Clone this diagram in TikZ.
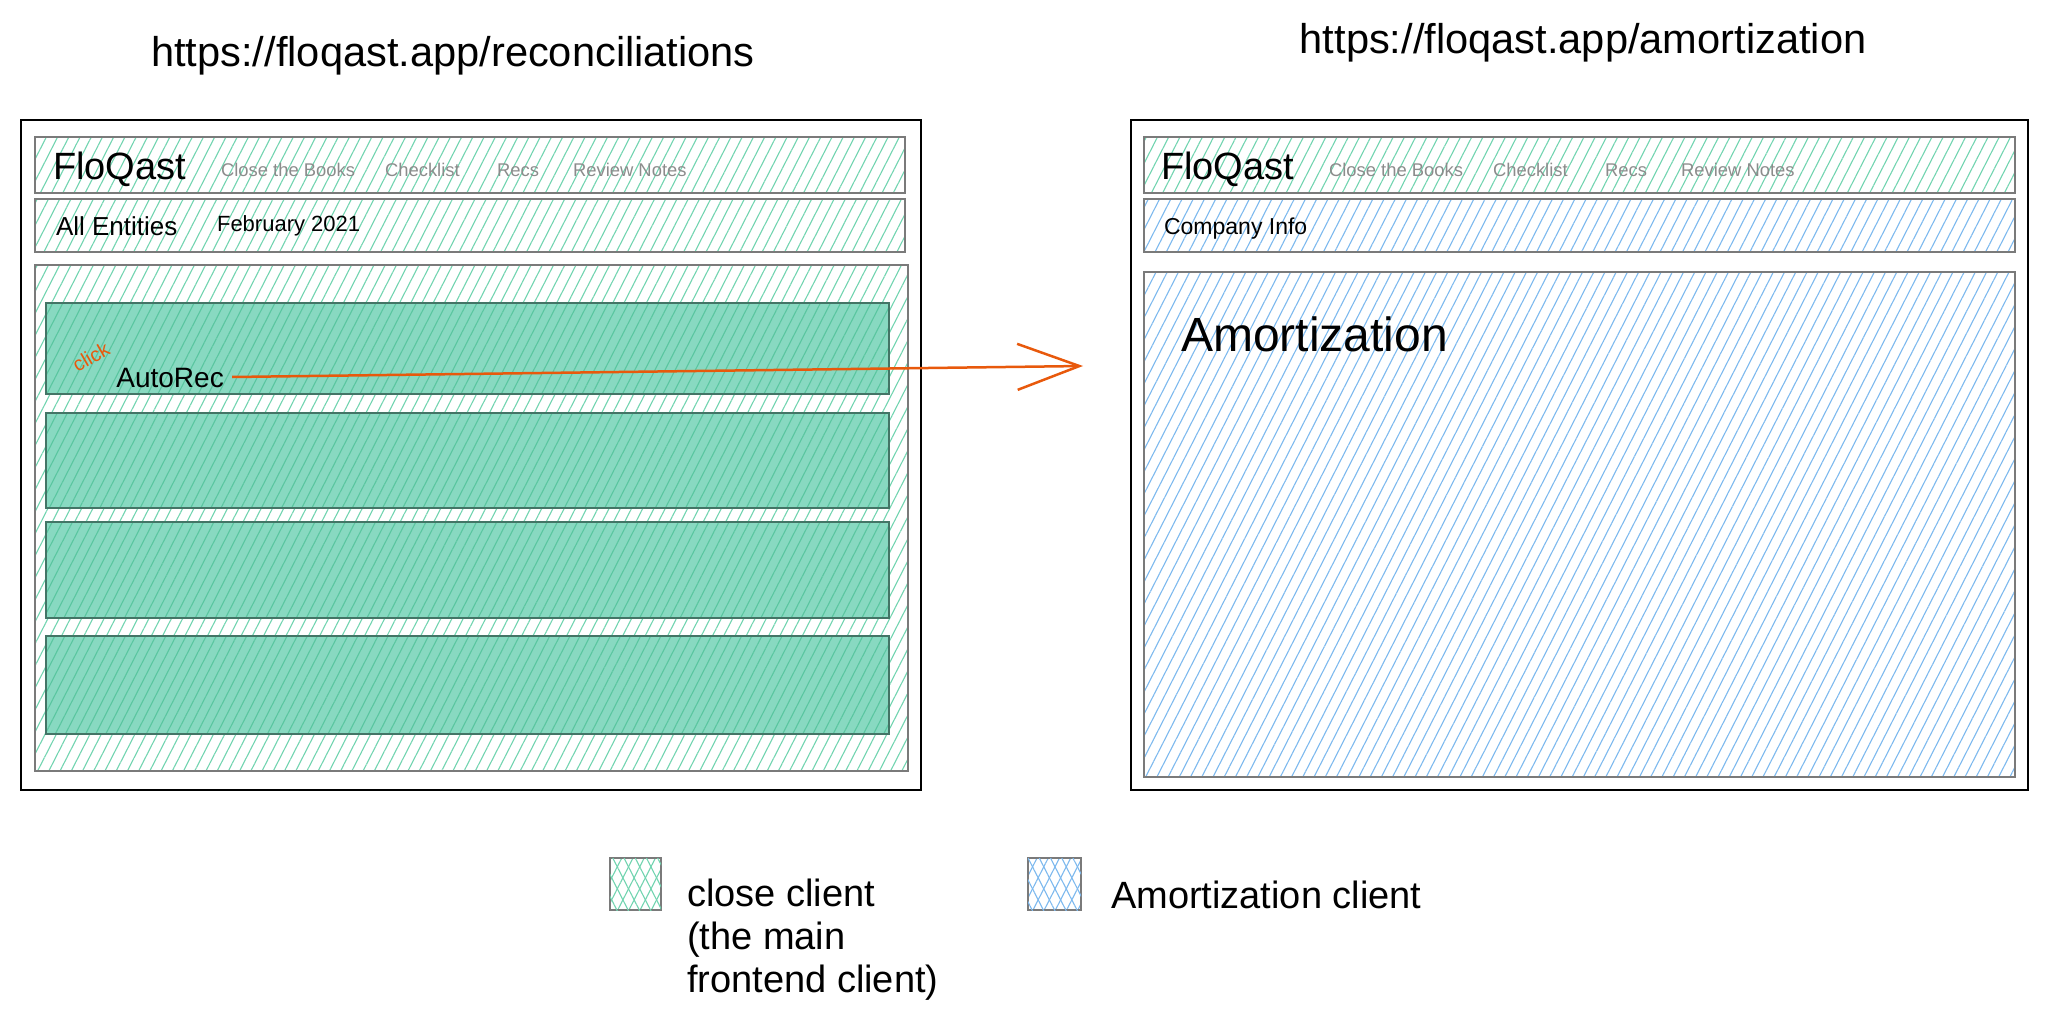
\documentclass[tikz,border=0pt]{standalone}
\usepackage{fontspec}
\setmainfont{Liberation Sans}
\usetikzlibrary{patterns.meta,arrows.meta}
\definecolor{sketchgreen}{HTML}{72D4B0}
\definecolor{rowgreen}{HTML}{88D9C1}
\definecolor{rowhatch}{HTML}{5AC6A0}
\definecolor{rowedge}{HTML}{437566}
\definecolor{sketchblue}{HTML}{7DB9EE}
\definecolor{boxgray}{HTML}{7A7A7A}
\definecolor{navgray}{HTML}{8C8C8C}
\definecolor{clickorange}{HTML}{E8590C}
\tikzset{
  frame/.style={draw=black,line width=1.4pt},
  bar/.style={draw=boxgray,line width=1.4pt},
  green hatch/.style={pattern={Lines[angle=63,distance=5pt,line width=0.55pt]},
    pattern color=sketchgreen},
  blue hatch/.style={pattern={Lines[angle=63,distance=5pt,line width=0.55pt]},
    pattern color=sketchblue},
  row/.style={draw=rowedge,line width=1.4pt,preaction={fill=rowgreen},
    pattern={Lines[angle=63,distance=4.5pt,line width=0.55pt]},pattern color=rowhatch},
  url/.style={font=\fontsize{20.8}{24}\selectfont},
  logo/.style={anchor=west,font=\fontsize{19}{22}\selectfont},
  nav/.style={anchor=west,text=navgray,font=\fontsize{9.2}{11}\selectfont},
  label/.style={anchor=west,font=\fontsize{11}{13}\selectfont},
  legend text/.style={anchor=west,align=left,font=\fontsize{19}{21.5}\selectfont},
  link/.style={draw=clickorange,line width=1.25pt,
    -{Straight Barb[length=31pt,width=23pt,line width=1.25pt]}}
}

\begin{document}
\begin{tikzpicture}[x=0.5pt,y=-0.5pt]
  \useasboundingbox (0,0) rectangle (2048,1021);
  % page urls
  \node[url] (recsurl) at (453,56) {https://floqast.app/reconciliations};
  \node[url] (amorturl) at (1583,43) {https://floqast.app/amortization};
  % reconciliations page
  \draw[frame] (21,120) rectangle (921,790);
  \draw[bar,green hatch] (35,137) rectangle (905,193);
  \draw[bar,green hatch] (35,199) rectangle (905,252);
  \draw[bar,green hatch] (35,265) rectangle (908,771);
  \foreach \top/\bot in {303/394,413/508,522/618,636/734}
    \draw[row] (46,\top) rectangle (889,\bot);
  % amortization page
  \draw[frame] (1131,120) rectangle (2028,790);
  \draw[bar,green hatch] (1144,137) rectangle (2015,193);
  \draw[bar,blue hatch] (1144,199) rectangle (2015,252);
  \draw[bar,blue hatch] (1144,272) rectangle (2015,777);
  % headers
  \foreach \dx/\side in {0/L,1108/R}{
    \node[logo] (logo\side) at (46+\dx,169) {FloQast};
    \node[nav] (books\side) at (214+\dx,170) {Close the Books};
    \node[nav] (checklist\side) at (378+\dx,170) {Checklist};
    \node[nav] (recs\side) at (490+\dx,170) {Recs};
    \node[nav] (notes\side) at (566+\dx,170) {Review Notes};
  }
  \node[label,font=\fontsize{13}{15}\selectfont] (entities) at (49,226) {All Entities};
  \node[label] (period) at (210,226) {February 2021};
  \node[label,font=\fontsize{11.5}{13}\selectfont] (company) at (1157,229) {Company Info};
  \node[anchor=west,font=\fontsize{24}{28}\selectfont] (amort) at (1174,334) {Amortization};
  % click through
  \node[text=clickorange,rotate=30,inner sep=0.5pt,font=\fontsize{10}{12}\selectfont]
    (click) at (91,357) {click};
  \node[anchor=west,inner sep=1pt,font=\fontsize{14}{16}\selectfont] (autorec) at (114,378) {AutoRec};
  \coordinate (amortdrop) at (1083,366);
  \draw[link] ([xshift=3pt,yshift=0.5pt]autorec.east) -- (amortdrop);
  % legend
  \draw[bar,green hatch] (610,858) rectangle (661,910);
  \path[green hatch,pattern={Lines[angle=117,distance=5pt,line width=0.55pt]}]
    (610,858) rectangle (661,910);
  \draw[bar,blue hatch] (1028,858) rectangle (1081,910);
  \path[blue hatch,pattern={Lines[angle=117,distance=5pt,line width=0.55pt]}]
    (1028,858) rectangle (1081,910);
  \node[legend text,anchor=north west] (closekey) at (680,872)
    {close client\\(the main\\frontend client)};
  \node[legend text] (amortkey) at (1104,895) {Amortization client};
\end{tikzpicture}
\end{document}
